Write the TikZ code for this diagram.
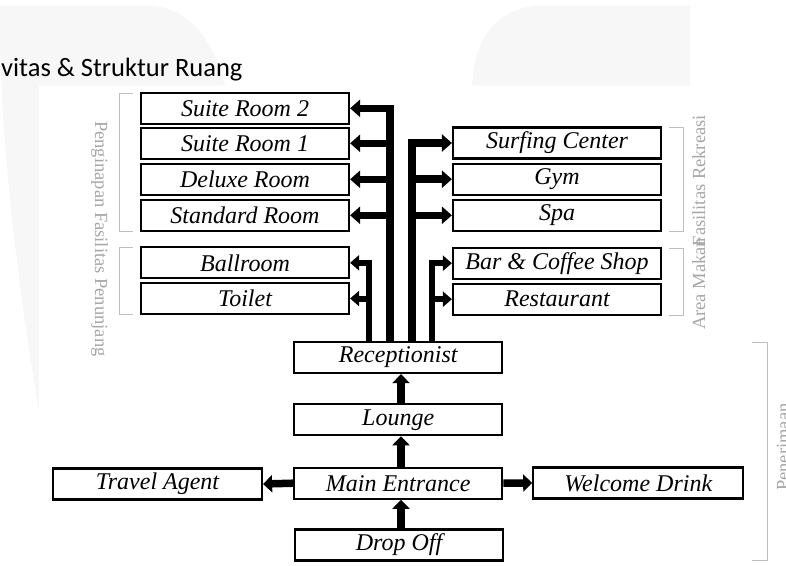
\documentclass[tikz,border=0pt]{standalone}
\usepackage{fontspec}
\setmainfont{Liberation Serif}
\newfontfamily\titlefont{Carlito}
\usetikzlibrary{arrows.meta}
\begin{document}
\begin{tikzpicture}[x=1pt,y=-1pt,
  box/.style={draw=black, line width=2.2pt, minimum width=208pt, minimum height=31pt, inner sep=0pt, font=\fontsize{24}{24}\selectfont\itshape},
  conn/.style={line width=7.5pt, line join=miter, -{Triangle[width=17pt,length=10pt]}},
  thinconn/.style={line width=6pt, line join=miter, -{Triangle[width=15pt,length=9pt]}},
  flowarr/.style={line width=7.5pt, -{Triangle[width=17pt,length=9pt]}},
  bracket/.style={draw=black!25, line width=1pt},
  lbl/.style={text=black!35, font=\fontsize{18.5}{18.5}\selectfont, inner sep=0pt},
  wm/.style={fill=black!3, draw=none}
]
\useasboundingbox (0,0) rectangle (786,565);
% watermark
\fill[wm] (0,5.5) -- (150,5.5) .. controls (192,8) and (215,45) .. (225,85.5) -- (39,85.5) -- (39,411) .. controls (20,300) and (2,160) .. (0,40) -- cycle;
\fill[wm] (472,85.5) .. controls (474,40) and (495,5.5) .. (545,5.5) -- (690,5.5) -- (690,85.5) -- cycle;

% title
\node[anchor=base west, inner sep=0pt, font=\titlefont\fontsize{26.5}{26.5}\selectfont] (title) at (1,76) {vitas \& Struktur Ruang};

% left boxes
\node[box] (suite2) at (245,108.3) {Suite Room 2};
\node[box] (suite1) at (245,143.3) {Suite Room 1};
\node[box] (deluxe) at (245,179.3) {Deluxe Room};
\node[box] (standard) at (245,215.3) {Standard Room};
\node[box] (ballroom) at (245,262.8) {Ballroom};
\node[box] (toilet) at (245,298.5) {Toilet};
% right boxes
\node[box] (surfing) at (557,143) {Surfing Center};
\node[box] (gym) at (557,179.2) {Gym};
\node[box] (spa) at (557,215.3) {Spa};
\node[box] (bar) at (557,263.2) {Bar \& Coffee Shop};
\node[box] (resto) at (557,299.2) {Restaurant};
% centre stack
\node[box] (recep) at (398.2,357.5) {Receptionist};
\node[box] (lounge) at (398.2,419.7) {Lounge};
\node[box] (main) at (398.2,483.2) {Main Entrance};
\node[box] (drop) at (399,545) {Drop Off};
\node[box, minimum width=209pt] (travel) at (157.5,484) {Travel Agent};
\node[box, minimum width=210pt] (welcome) at (638.3,483) {Welcome Drink};

% bar anchor points on receptionist
\coordinate (rA) at (390,342);
\coordinate (rB) at (412,342);
\coordinate (rC) at (369,342);
\coordinate (rD) at (432,342);
\coordinate (ax) at (401,0);

% rooms
\draw[conn] (rA) |- (suite2.east);
\draw[conn] (suite1.east -| rA) -- (suite1.east);
\draw[conn] (deluxe.east -| rA) -- (deluxe.east);
\draw[conn] (standard.east -| rA) -- (standard.east);
% recreation
\draw[conn] (rB) |- (surfing.west);
\draw[conn] (gym.west -| rB) -- (gym.west);
\draw[conn] (spa.west -| rB) -- (spa.west);
% supporting
\draw[thinconn] (rC) |- (ballroom.east);
\draw[thinconn] (toilet.east -| rC) -- (toilet.east);
% food
\draw[thinconn] (rD) |- (bar.west);
\draw[thinconn] (resto.west -| rD) -- (resto.west);

% flow
\draw[flowarr] (lounge.north -| ax) -- (recep.south -| ax);
\draw[flowarr] (main.north -| ax) -- (lounge.south -| ax);
\draw[flowarr] (drop.north -| ax) -- (main.south -| ax);
\draw[flowarr] (main.west) -- (travel.east);
\draw[flowarr] (main.east) -- (welcome.west);

% brackets
\draw[bracket] (133,93.3) -- (119,93.3) -- (119,231.7) -- (133,231.7);
\draw[bracket] (133,247.7) -- (119,247.7) -- (119,314.3) -- (133,314.3);
\draw[bracket] (669,127.7) -- (683,127.7) -- (683,231) -- (669,231);
\draw[bracket] (669,248.3) -- (683,248.3) -- (683,315) -- (669,315);
\draw[bracket] (751.7,342.3) -- (767.3,342.3) -- (767.3,560) -- (751.7,560);

% group labels
\node[lbl, rotate=-90, anchor=base west] (lpen) at (95,121) {Penginapan Fasilitas Penunjang};
\node[lbl, rotate=90, anchor=base east] (lrek) at (705,115) {Fasilitas Rekreasi};
\node[lbl, rotate=90, anchor=base west] (lmak) at (705,330) {Area Makan};
\node[lbl, rotate=90, anchor=base west] (lter) at (789,491) {Penerimaan};
\end{tikzpicture}
\end{document}
